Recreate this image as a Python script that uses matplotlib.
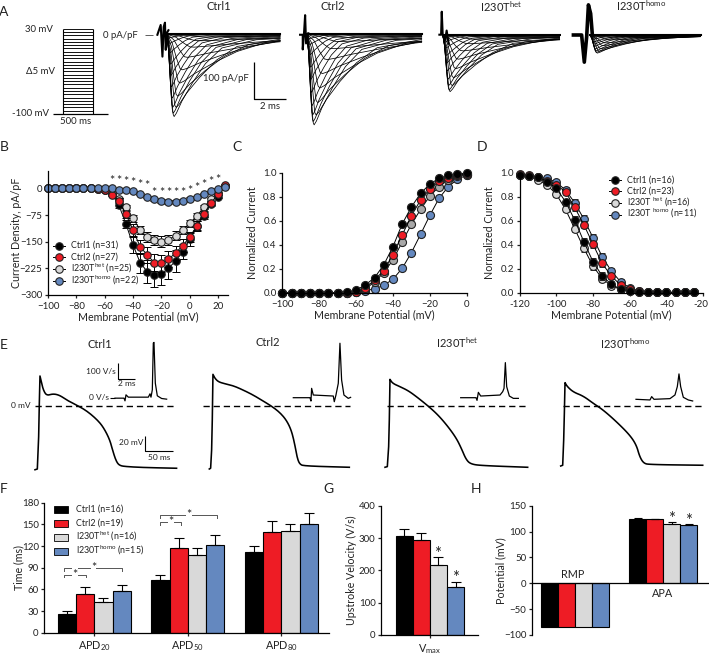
import numpy as np
import matplotlib
matplotlib.use("Agg")
import matplotlib.pyplot as plt
from matplotlib.patches import Rectangle

FONT = 'Lato'
plt.rcParams['font.family'] = [FONT, 'DejaVu Sans']
plt.rcParams['mathtext.fontset'] = 'custom'
plt.rcParams['mathtext.rm'] = FONT
plt.rcParams['mathtext.it'] = FONT
plt.rcParams['mathtext.bf'] = FONT
plt.rcParams['mathtext.default'] = 'rm'
plt.rcParams['axes.linewidth'] = 0.9
plt.rcParams['xtick.major.width'] = 0.9
plt.rcParams['ytick.major.width'] = 0.9
plt.rcParams['xtick.major.size'] = 2.5
plt.rcParams['ytick.major.size'] = 2.5
plt.rcParams['xtick.major.pad'] = 2.5
plt.rcParams['ytick.major.pad'] = 1.5

W, H = 709, 656
TXT = '#222222'
BLACK, RED, GREY, BLUE = '#000000', '#ee1c25', '#d9d9d9', '#6488bf'
GREY_C = '#a8a8a8'
LAB = ['Ctrl1', 'Ctrl2', 'I230T$^{het}$', 'I230T$^{homo}$']
TICK, AXL = 7.0, 7.7

# ---------- Panel A data (pA/pF, ms) ----------
protocol_mV = list(range(-100, 35, 5))
peak_t = [2.6, 2.1, 1.7, 1.3, 1.0, .85, .7, .6, .47, .42, .38, .34, .3, .27, .25, .22, .2, .18]
amp_ctrl1 = [8, 18, 35, 62, 95, 130, 165, 195, 219, 210, 195, 170, 140, 110, 80, 50, 25, 10]
amp_ctrl2 = [9, 20, 39, 68, 105, 143, 182, 215, 241, 232, 215, 190, 155, 120, 88, 55, 28, 12]
amp_het = [5, 12, 24, 43, 65, 90, 114, 135, 151, 146, 135, 118, 96, 75, 55, 35, 18, 8]
amp_homo = [2, 4, 8, 13, 21, 28, 36, 43, 48, 46, 42, 37, 30, 24, 18, 11, 6, 3]
shape_r = [0, .35, .6, .85, 1, 1.3, 2, 3.4, 5.2, 7.4, 12, 20, 40, 80]
shape_i = [0, .25, .65, .97, 1, .96, .82, .6, .36, .17, .07, .03, .01, 0]
art_ctrl1_t = [-.59, -.38, -.27, -.19, -.11, -.06, 0, .11]
art_ctrl1_a = [-2, 24, -60, 19, 30, -42, 2, 10]
art_ctrl2_t = [-.42, -.25, -.25, -.17, -.1, -.04, .1]
art_ctrl2_a = [-2, -2, -41, 2, 50, -25, 2]
art_het_t = [-.21, -.1, -.06, 0, .15, .25, .38]
art_het_a = [0, 0, 61, 0, -14, 11, -24]
art_homo_t = [-1.05, -.53, -.36, -.21, -.1, .04, .15]
art_homo_a = [0, 0, -72, -4, 80, 57, 0]

# ---------- Panel B data ----------
b_x = [-100, -95, -90, -85, -80, -75, -70, -65, -60, -55, -50, -45, -40, -35, -30, -25, -20, -15, -10, -5, 0, 5, 10, 15, 20, 25]
b_ctrl1 = [0, 0, 0, 0, 0, 0, 0, -1, -5, -15, -47, -100, -159, -209, -234, -245, -241, -225, -204, -178, -143, -107, -77, -43, -23, 8]
b_ctrl2 = [0, 0, 0, 0, 0, 0, 0, -1, -3, -18, -34, -73, -117, -164, -187, -209, -211, -199, -182, -161, -137, -105, -71, -41, -16, 10]
b_het = [0, 0, 0, 0, 0, 0, 0, -1, -3, -12, -30, -53, -84, -117, -137, -145, -150, -144, -133, -117, -98, -77, -53, -30, -13, 7]
b_homo = [0, 0, 0, 0, 0, 0, 0, 0, 0, 0, -3, -4, -8, -16, -24, -31, -36, -38, -37, -34, -29, -23, -15, -8, -1, 5]
b_ctrl1_err = [0, 0, 0, 0, 0, 0, 0, 0, 1, 3, 8, 12, 22, 28, 32, 32, 32, 31, 30, 21, 18, 14, 10, 6, 4, 2]
b_ctrl2_err = [0, 0, 0, 0, 0, 0, 0, 0, 1, 3, 6, 10, 16, 20, 22, 24, 24, 22, 20, 18, 14, 12, 8, 5, 3, 2]
b_het_err = [0, 0, 0, 0, 0, 0, 0, 0, 1, 2, 4, 7, 10, 12, 14, 15, 15, 14, 13, 12, 10, 8, 6, 4, 3, 2]
b_homo_err = [0, 0, 0, 0, 0, 0, 0, 0, 0, 0, 1, 1, 2, 3, 4, 5, 5, 5, 5, 4, 4, 3, 2, 2, 1, 1]
b_star_x = [-55, -50, -45, -40, -35, -30, -25, -20, -15, -10, -5, 0, 5, 10, 15, 20]
b_star_y = [20, 20, 17, 15, 10, 6, -13, -13, -13, -13, -13, -7, 1, 10, 17, 24]
b_legend = ['Ctrl1 (n=31)', 'Ctrl2 (n=27)', 'I230T$^{het}$ (n=25)', 'I230T$^{homo}$ (n=22)']

# ---------- Panel C data ----------
c_x = [-100, -95, -90, -85, -80, -75, -70, -65, -60, -55, -50, -45, -40, -35, -30, -25, -20, -15, -10, -5, 0]
c_ctrl1 = [0, 0, 0, 0, 0, 0, 0, .005, .025, .066, .127, .233, .385, .573, .715, .828, .906, .953, .978, .99, .997]
c_ctrl2 = [0, 0, 0, 0, 0, 0, 0, 0, .01, .04, .108, .186, .32, .482, .643, .773, .864, .93, .96, .98, .99]
c_het = [0, 0, 0, 0, 0, 0, 0, 0, .01, .035, .09, .17, .274, .424, .57, .695, .806, .884, .94, .97, .985]
c_homo = [0, 0, 0, 0, 0, 0, 0, 0, .01, .02, .033, .064, .114, .205, .335, .488, .645, .787, .884, .945, .98]

# ---------- Panel D data ----------
d_x = [-120, -115, -110, -105, -100, -95, -90, -85, -80, -75, -70, -65, -60, -55, -50, -45, -40, -35, -30, -25]
d_ctrl1 = [.98, .972, .96, .925, .87, .758, .606, .425, .258, .14, .07, .03, .017, .008, .003, .003, .003, .003, .003, .003]
d_ctrl2 = [.985, .98, .96, .93, .897, .842, .71, .567, .403, .244, .139, .064, .03, .012, .003, .003, .003, .003, .003, .003]
d_het = [.98, .97, .94, .897, .82, .694, .533, .37, .222, .117, .058, .027, .012, .005, .003, .003, .003, .003, .003, .003]
d_homo = [.98, .975, .965, .953, .92, .855, .75, .614, .458, .3, .18, .092, .04, .015, .003, .003, .003, .003, .003, .003]
d_err = [.01, .01, .015, .02, .02, .025, .03, .03, .03, .03, .025, .02, .01, .005, 0, 0, 0, 0, 0, 0]
d_legend = ['Ctrl1 (n=16)', 'Ctrl2 (n=23)', 'I230T $^{het}$ (n=16)', 'I230T $^{homo}$ (n=11)']

# ---------- Panel E data (ms, mV; ms, V/s) ----------
ap1_t = [0, 4.2, 6.6, 7.8, 9, 11.4, 15, 21, 33, 45, 57, 75, 93, 111, 123, 135, 141, 147, 153, 165, 195, 256]
ap1_v = [-85, -84, -41, 3.5, 40, 32.4, 21.3, 13.8, 16.4, 14.2, 8, 1.3, -6.2, -17.3, -27.5, -44.4, -60.8, -74, -79.5, -80.8, -82, -83]
ap2_t = [0, 2.4, 4.2, 5.4, 6.6, 10.2, 16.2, 25.2, 43.2, 61.2, 79.2, 97.2, 112.2, 127.2, 139.2, 148.2, 154.2, 158.4, 163.2, 172.2, 253.2]
ap2_v = [-84, -83, -58.6, -18.6, 42.2, 36.9, 32.4, 30.2, 27.1, 21.3, 14.7, 6.7, 0, -8.4, -18.6, -32, -49.7, -67.5, -77.7, -80, -81.7]
ap3_t = [0, 4.2, 6.6, 7.8, 9, 13.8, 27, 42, 57, 78, 96, 114, 129, 138, 147, 156, 177, 258]
ap3_v = [-81.7, -80.8, -54.2, -18.6, 35.5, 30.2, 25.8, 20.4, 12.4, 0, -12, -27.5, -43, -56.4, -72, -77.7, -79.5, -81.7]
ap4_t = [0, 3.6, 5.4, 6.6, 7.8, 12, 22.8, 40.8, 58.8, 76.8, 100.8, 124.8, 136.8, 142.8, 150, 160.8, 256.8]
ap4_v = [-80, -79, -45.3, -9.8, 31.1, 25.8, 18.6, 13.3, 3.6, -5.3, -20.9, -38.6, -52, -67.5, -76.4, -78.1, -79]
dv1_t = [0, 1.08, 1.2, 1.32, 1.6, 4, 4.2, 4.32, 4.48, 4.6, 4.68, 4.84, 5.08, 5.6, 6.2]
dv1_v = [-4, -4, -20, 16, 2, 2, 22, 2, 46, 326, 330, 86, 10, -6, -10]
dv2_t = [0, 2, 2.12, 2.2, 2.4, 4.8, 4.92, 5.12, 5.4, 5.6, 5.8, 6.08, 6.6, 6.88]
dv2_v = [0, 0, -20, 56, 16, 10, -24, 16, 86, 326, 106, 16, -4, 2]
dv3_t = [0, 1.84, 1.96, 2.12, 2.4, 4.72, 5.04, 5.2, 5.36, 5.52, 5.84, 6.32, 6.92]
dv3_v = [0, 0, -16, 32, 10, 16, 36, 56, 210, 66, 10, -4, -4]
dv4_t = [0, 1.68, 1.88, 2.16, 4.08, 4.68, 4.96, 5.16, 5.36, 5.68, 6.28, 6.8]
dv4_v = [0, -4, 16, 0, 4, 26, 76, 152, 76, 12, -4, -10]

# ---------- Panel F data ----------
f_groups = ['APD$_{20}$', 'APD$_{50}$', 'APD$_{80}$']
f_ctrl1 = [25.8, 72.5, 112]
f_ctrl2 = [54, 116.8, 139]
f_het = [43, 107.5, 140.8]
f_homo = [57.7, 121.4, 150.5]
f_ctrl1_err = [4.7, 7.5, 8]
f_ctrl2_err = [8.8, 13.8, 16]
f_het_err = [5, 9.3, 10.2]
f_homo_err = [8.8, 13.6, 15.2]
f_legend = ['Ctrl1 (n=16)', 'Ctrl2 (n=19)', 'I230T$^{het}$ (n=16)', 'I230T$^{homo}$ (n=15)']

# ---------- Panel G / H data ----------
g_vals = [306, 294, 217.5, 147.4]
g_err = [21, 20, 22.5, 15.6]
h_rmp = [-84, -84, -84, -84]
h_apa = [124.4, 123.7, 115.3, 113.4]
h_apa_err = [1.6, 1.2, 2.7, 1.9]

COL = [BLACK, RED, GREY, BLUE]


def ax_px(l, t, r, b):
    return fig.add_axes([l / W, 1 - b / H, (r - l) / W, (b - t) / H])


def clean(ax):
    ax.spines['top'].set_visible(False)
    ax.spines['right'].set_visible(False)
    ax.tick_params(labelsize=TICK, colors=TXT)


def place_ylabel(ax, x_px, l_px, r_px):
    ax.yaxis.set_label_coords((x_px - l_px) / (r_px - l_px), .5)
    ax.yaxis.label.set_va('center')


def trace_ax(x0, y0, sx, sy, left, right, top, bottom):
    ax = ax_px(left, top, right, bottom)
    ax.set_xlim((left - x0) / sx, (right - x0) / sx)
    ax.set_ylim((y0 - bottom) / sy, (y0 - top) / sy)
    ax.axis('off')
    ax.patch.set_alpha(0)
    return ax


def rounded_after_peak(t, v):
    t, v = np.asarray(t, float), np.asarray(v, float)
    k = int(np.argmax(v))
    tt, vv = t[k:], v[k:]
    for _ in range(3):
        tt = np.column_stack([.75 * tt[:-1] + .25 * tt[1:], .25 * tt[:-1] + .75 * tt[1:]]).ravel()
        vv = np.column_stack([.75 * vv[:-1] + .25 * vv[1:], .25 * vv[:-1] + .75 * vv[1:]]).ravel()
    return np.r_[t[:k + 1], tt, t[-1]], np.r_[v[:k + 1], vv, v[-1]]


fig = plt.figure(figsize=(W / 100, H / 100), dpi=100)
ov = fig.add_axes([0, 0, 1, 1], zorder=20)
ov.set_xlim(0, W)
ov.set_ylim(H, 0)
ov.axis('off')
ov.patch.set_alpha(0)


def T(x, y, s, size=6.9, ha='center', va='center', **kw):
    ov.text(x, y, s, fontsize=size, ha=ha, va=va, color=TXT, **kw)


def L(xs, ys, lw=0.9, color='black', **kw):
    ov.plot(xs, ys, lw=lw, color=color, solid_capstyle='butt', **kw)


def marker_legend(x0, x1, xtext, ys, labels, colors, size=6.4):
    for y, s, c in zip(ys, labels, colors):
        ov.plot([x0, x1], [y, y], color='black', lw=0.7)
        ov.plot([(x0 + x1) / 2], [y], 'o', mfc=c, mec='#222222', mew=0.8, ms=5.4)
        ov.text(xtext, y + 2.3, s, fontsize=size, ha='left', va='baseline', color=TXT)


for (px, py, s) in [(4, 12, 'A'), (4, 147, 'B'), (237, 147, 'C'), (482, 147, 'D'),
                    (4, 345, 'E'), (4, 489, 'F'), (328, 489, 'G'), (476, 489, 'H')]:
    T(px, py, s, size=10)

# ------ Panel A ------
ap = ax_px(50, 20, 110, 118)
ap.set_xlim(-(62.7 - 50) * 500 / 30.6, (110 - 62.7) * 500 / 30.6)
ap.set_ylim(-100 - (118 - 114) * 130 / 85.3, -100 + (114 - 20) * 130 / 85.3)
ap.axis('off')
ap.hlines(protocol_mV, 0, 500, color='black', lw=0.65)
ap.vlines([0, 500], -100, 30, color='black', lw=0.8)
ap.hlines([-100.5], -160, 740, color='black', lw=0.9)
T(39, 29, '30 mV')
T(40.7, 72, 'Δ5 mV')
T(30.7, 114, '-100 mV')
T(76, 121.7, '500 ms')
T(120, 35, '0 pA/pF')
L([145, 153], [35, 35], lw=0.6, color='#444444')

tgrid = np.linspace(0, 7.4, 300)
fams = [(166.7, 34, amp_ctrl1, art_ctrl1_t, art_ctrl1_a, 7.2, 1.5),
        (306.7, 34, amp_ctrl2, art_ctrl2_t, art_ctrl2_a, 7.3, 1.5),
        (442.7, 34.7, amp_het, art_het_t, art_het_a, 7.4, 1.5),
        (590, 35, amp_homo, art_homo_t, art_homo_a, 7.0, 2.6)]
for (x0, y0, amps, at, aa, tend, artlw) in fams:
    a = trace_ax(x0, y0, 15.8, .377, x0 - 20, x0 + 118, 0, 140)
    for tp, A in zip(peak_t, amps):
        tt = tgrid[tgrid <= tend]
        a.plot(tt, -A * np.interp(tt / tp, shape_r, shape_i), color='black', lw=0.55)
    a.plot([0, tend], [0, 0], color='black', lw=1.5)
    a.plot(at, aa, color='black', lw=artlw, solid_joinstyle='round')
for x, y, s in [(219, 7, LAB[0]), (333, 7, LAB[1]), (501, 7, LAB[2]), (641.7, 6, LAB[3])]:
    T(x, y, s, size=8)
L([254.3, 254.3, 286], [61.7, 99.3, 99.3], lw=0.9)
T(226, 78.7, '100 pA/pF')
T(270, 106.7, '2 ms')

# ------ Panel B ------
ab = ax_px(48, 170.7, 228, 295)
clean(ab)
ab.set_xlim(-100, 27)
ab.set_ylim(-300, 50)
ab.set_xticks(range(-100, 21, 20))
ab.set_yticks([0, -75, -150, -225, -300])
ab.set_xlabel('Membrane Potential (mV)', fontsize=AXL, color=TXT, labelpad=0.5)
ab.set_ylabel('Current Density, pA/pF', fontsize=AXL, color=TXT)
place_ylabel(ab, 16.7, 48, 228)
for y, e, c in [(b_ctrl1, b_ctrl1_err, BLACK), (b_het, b_het_err, GREY),
                (b_ctrl2, b_ctrl2_err, RED), (b_homo, b_homo_err, BLUE)]:
    ab.errorbar(b_x, y, yerr=e, fmt='none', ecolor='black', elinewidth=0.7, capsize=2.6, capthick=0.7, clip_on=False)
    ab.plot(b_x, y, '-o', color='black', lw=0.7, mfc=c, mec='#222222', mew=0.8, ms=5.4, clip_on=False)
for x, y in zip(b_star_x, b_star_y):
    ab.text(x, y, '*', fontsize=9, ha='center', va='center', color=TXT)
marker_legend(53.3, 65, 71.3, [245.7, 257, 269.3, 281], b_legend, COL)

# ------ Panel C ------
ac = ax_px(282.3, 172.7, 466.7, 293)
clean(ac)
ac.set_xlim(-100, 0)
ac.set_ylim(0, 1)
ac.set_xticks(range(-100, 1, 20))
ac.set_yticks([0, .2, .4, .6, .8, 1])
ac.set_yticklabels(['0.0', '0.2', '0.4', '0.6', '0.8', '1.0'])
ac.set_xlabel('Membrane Potential (mV)', fontsize=AXL, color=TXT, labelpad=0.5)
ac.set_ylabel('Normalized Current', fontsize=AXL, color=TXT)
place_ylabel(ac, 252.7, 282.3, 466.7)
for y, c in [(c_homo, BLUE), (c_het, GREY_C), (c_ctrl2, RED), (c_ctrl1, BLACK)]:
    ac.plot(c_x, y, '-o', color='black', lw=0.7, mfc=c, mec='#222222', mew=0.8, ms=5.8, clip_on=False)

# ------ Panel D ------
ad = ax_px(519.7, 172.7, 703, 292.7)
clean(ad)
ad.set_xlim(-120, -20)
ad.set_ylim(0, 1)
d_ticks = list(range(-120, -19, 20))
ad.set_xticks(d_ticks)
ad.set_xticklabels([str(v) for v in d_ticks[:-1]] + [''])
ad.set_yticks([0, .2, .4, .6, .8, 1])
ad.set_yticklabels(['0.0', '0.2', '0.4', '0.6', '0.8', '1.0'])
ad.set_xlabel('Membrane Potential (mV)', fontsize=AXL, color=TXT, labelpad=0.5)
ad.set_ylabel('Normalized Current', fontsize=AXL, color=TXT)
place_ylabel(ad, 489.7, 519.7, 703)
for y, c in [(d_homo, BLUE), (d_het, GREY), (d_ctrl2, RED), (d_ctrl1, BLACK)]:
    ad.errorbar(d_x, y, yerr=d_err, fmt='none', ecolor='black', elinewidth=0.6, capsize=2, capthick=0.6, clip_on=False)
    ad.plot(d_x, y, '-o', color='black', lw=0.7, mfc=c, mec='#222222', mew=0.8, ms=5.6, clip_on=False)
marker_legend(609, 621, 627, [180, 191, 203.3, 214.7], d_legend, COL)
T(701, 304.5, '-20', size=TICK)

# ------ Panel E ------
SX, SY = 0.553, 0.75
aps = [(35, ap1_t, ap1_v, 0), (209.3, ap2_t, ap2_v, -10.8), (385, ap3_t, ap3_v, 3), (560.7, ap4_t, ap4_v, 4.8)]
dash_end = [252, 254, 255, 255]
for (x0, t, v, d0), dend in zip(aps, dash_end):
    a = trace_ax(x0, 406, SX, SY, x0 - 12, x0 + 146, 360, 478)
    ts, vs = rounded_after_peak(t, v)
    a.plot(ts, vs, color='black', lw=1.15, solid_joinstyle='round')
    a.plot([d0, dend], [0, 0], color='black', lw=1.0, dashes=(4.5, 2.8))
insets = [(115, 397.5, dv1_t, dv1_v), (293.3, 397.7, dv2_t, dv2_v), (460.7, 397.7, dv3_t, dv3_v), (636, 399.3, dv4_t, dv4_v)]
for x0, y0, t, v in insets:
    a = trace_ax(x0, y0, 8.33, .167, x0 - 6, x0 + 62, 335, 415)
    a.plot(t, v, color='black', lw=0.9, solid_joinstyle='round')
for x, y, s in [(100, 345, LAB[0]), (268, 342, LAB[1]), (457, 343, LAB[2]), (625, 344, LAB[3])]:
    T(x, y, s, size=8)
L([118.3, 118.3, 135], [362.7, 379.3, 379.3], lw=0.8)
T(116, 371.7, '100 V/s', size=6, ha='right')
T(126.7, 384, '2 ms', size=6)
T(108.7, 397, '0 V/s', size=6, ha='right')
L([109.5, 115], [397.5, 397.5], lw=0.8)
T(30.7, 406, '0 mV', size=6, ha='right')
L([145.3, 145.3, 173.3], [436, 451, 451], lw=0.8)
T(143.5, 442.7, '20 mV', size=6, ha='right')
T(159, 457, '50 ms', size=6)

# ------ Panel F ------
af = ax_px(44.3, 502.7, 329.3, 632.7)
clean(af)
af.set_xlim(-.535, 2.513)
af.set_ylim(0, 180)
af.set_yticks(range(0, 181, 30))
af.set_xticks([0, 1, 2])
af.set_xticklabels(f_groups, fontsize=7.8)
af.set_ylabel('Time (ms)', fontsize=AXL, color=TXT)
place_ylabel(af, 18.3, 44.3, 329.3)
BW = 0.195
for i, (vals, errs) in enumerate([(f_ctrl1, f_ctrl1_err), (f_ctrl2, f_ctrl2_err), (f_het, f_het_err), (f_homo, f_homo_err)]):
    pos = np.arange(3) + (i - 1.5) * BW
    af.bar(pos, vals, BW, color=COL[i], edgecolor='black', lw=0.8)
    af.errorbar(pos, vals, yerr=[np.zeros(3), errs], fmt='none', ecolor='black', elinewidth=0.8, capsize=3.5, capthick=0.8)
for xa, xb, yb in [(-.32, -.09, 80.3), (-.32, .3, 89.5), (.706, .927, 152.7), (.706, 1.315, 162.4)]:
    af.plot([xa, xa, xb, xb], [yb - 3.5, yb, yb, yb - 3.5], color='#555555', lw=0.7)
    af.text((xa + xb) / 2, yb, '*', fontsize=9, ha='center', va='center', color=TXT,
            bbox=dict(fc='white', ec='none', pad=0.2))
for y, s, c in zip([509.3, 523.3, 537.3, 551.7], f_legend, COL):
    ov.add_patch(Rectangle((54.3, y - 3.6), 14, 7.2, fc=c, ec='black', lw=0.6))
    ov.text(76, y + 2.3, s, fontsize=6.4, ha='left', va='baseline', color=TXT)

# ------ Panel G ------
ag = ax_px(381, 505.7, 478.3, 635)
clean(ag)
ag.set_xlim(-2.88, 2.84)
ag.set_ylim(0, 400)
ag.set_yticks(range(0, 401, 100))
ag.set_xticks([0])
ag.set_xticklabels(['V$_{max}$'], fontsize=7.8)
ag.set_ylabel('Upstroke Velocity (V/s)', fontsize=AXL, color=TXT)
place_ylabel(ag, 351.7, 381, 478.3)
gpos = np.array([-1.5, -.5, .5, 1.5])
ag.bar(gpos, g_vals, 1, color=COL, edgecolor='black', lw=0.8)
ag.errorbar(gpos, g_vals, yerr=[np.zeros(4), g_err], fmt='none', ecolor='black', elinewidth=0.8, capsize=3.5, capthick=0.8)
ag.text(.45, 252, '*', fontsize=12, ha='center', va='center', color=TXT)
ag.text(1.5, 176, '*', fontsize=12, ha='center', va='center', color=TXT)

# ------ Panel H ------
ah = ax_px(531.7, 505.7, 708.3, 635)
ah.set_xlim(-2.55, 7.84)
ah.set_ylim(-100, 150)
clean(ah)
ah.spines['bottom'].set_position(('data', 0))
ah.set_yticks([-100, -50, 0, 50, 100, 150])
ah.set_xticks([])
ah.set_ylabel('Potential (mV)', fontsize=AXL, color=TXT)
place_ylabel(ah, 501, 531.7, 708.3)
ah.bar(gpos, h_rmp, 1, color=COL, edgecolor='black', lw=0.8)
ah.bar(gpos + 5.2, h_apa, 1, color=COL, edgecolor='black', lw=0.8)
ah.errorbar(gpos + 5.2, h_apa, yerr=[np.zeros(4), h_apa_err], fmt='none', ecolor='black', elinewidth=0.8, capsize=3, capthick=0.8)
ah.text(-.15, 17, 'RMP', fontsize=7.8, ha='center', va='center', color=TXT)
ah.text(5.15, -20, 'APA', fontsize=7.8, ha='center', va='center', color=TXT)
ah.text(5.7, 125, '*', fontsize=12, ha='center', va='center', color=TXT)
ah.text(6.7, 121, '*', fontsize=12, ha='center', va='center', color=TXT)

fig.savefig('out.png', dpi=100)
